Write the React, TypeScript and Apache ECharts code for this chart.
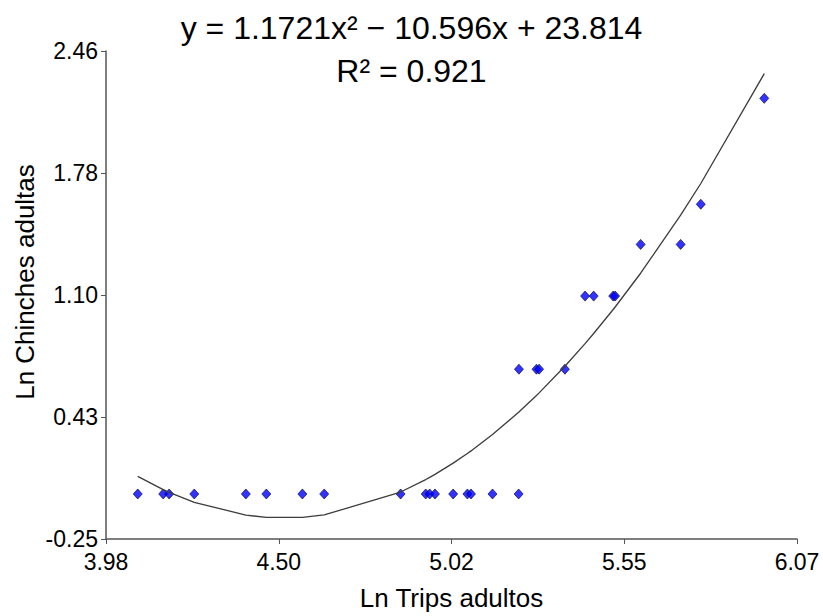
import React, { useEffect, useRef } from "react";
import * as echarts from "echarts";

// Observed points (Ln Trips adultos, Ln Chinches adultas)
const lnTrips: number[] = [
  4.076, 4.153, 4.171, 4.247, 4.403, 4.465, 4.574, 4.64, 4.871, 4.947, 4.959, 4.975, 5.03, 5.073, 5.084, 5.149, 5.228,
  5.229, 5.282, 5.29, 5.368,
  5.429, 5.455, 5.514, 5.52,
  5.597, 5.718,
  5.779,
  5.971,
];
const lnChinches: number[] = [
  0, 0, 0, 0, 0, 0, 0, 0, 0, 0, 0, 0, 0, 0, 0, 0, 0,
  0.693, 0.693, 0.693, 0.693,
  1.099, 1.099, 1.099, 1.099,
  1.386, 1.386,
  1.609,
  2.197,
];

// Polynomial trend coefficients shown in the chart: y = a x^2 + b x + c
const trendA = 1.1721;
const trendB = -10.596;
const trendC = 23.814;

const xTickValues: number[] = [3.98, 4.5025, 5.025, 5.5475, 6.07];
const xTickLabels: string[] = ["3.98", "4.50", "5.02", "5.55", "6.07"];
const yTickValues: number[] = [-0.25, 0.4275, 1.105, 1.7825, 2.46];
const yTickLabels: string[] = ["-0.25", "0.43", "1.10", "1.78", "2.46"];

const titleLine1 = "y = 1.1721x² − 10.596x + 23.814";
const titleLine2 = "R² = 0.921";
const xAxisTitle = "Ln Trips adultos";
const yAxisTitle = "Ln Chinches adultas";

const FONT = "'Liberation Sans', Arial, sans-serif";

function labelFor(values: number[], labels: string[], v: number): string {
  let best = 0;
  for (let i = 1; i < values.length; i++) {
    if (Math.abs(values[i] - v) < Math.abs(values[best] - v)) best = i;
  }
  return labels[best];
}

export default function App() {
  const ref = useRef<HTMLDivElement>(null);
  useEffect(() => {
    if (!ref.current) return;
    const chart = echarts.init(ref.current, undefined, { renderer: "svg" });
    const points = lnTrips.map((x, i) => [x, lnChinches[i]]);
    const sortedX = [...lnTrips].sort((a, b) => a - b);
    const trend = sortedX.map((x) => [x, trendA * x * x + trendB * x + trendC]);
    const axisColor = "#555555";
    chart.setOption({
      animation: false,
      backgroundColor: "#ffffff",
      title: [
        {
          text: titleLine1,
          left: "center",
          top: 7,
          textStyle: { fontFamily: FONT, fontSize: 32, fontWeight: "normal", color: "#000" },
        },
        {
          text: titleLine2,
          left: "center",
          top: 50,
          textStyle: { fontFamily: FONT, fontSize: 32, fontWeight: "normal", color: "#000" },
        },
      ],
      graphic: [
        {
          type: "text",
          x: 25,
          y: 282,
          rotation: Math.PI / 2,
          style: {
            text: yAxisTitle,
            fontFamily: FONT,
            fontSize: 26,
            fill: "#000",
            align: "center",
            verticalAlign: "middle",
          },
        },
      ],
      grid: { left: 106, right: 26, top: 51, bottom: 67, containLabel: false },
      xAxis: {
        type: "value",
        min: 3.98,
        max: 6.07,
        name: xAxisTitle,
        nameLocation: "middle",
        nameGap: 46,
        nameTextStyle: { fontFamily: FONT, fontSize: 26, color: "#000" },
        axisLine: { show: true, onZero: false, lineStyle: { color: axisColor, width: 1.5 } },
        axisTick: { show: true, length: 5, customValues: xTickValues, lineStyle: { color: axisColor } },
        axisLabel: {
          customValues: xTickValues,
          formatter: (v: number) => labelFor(xTickValues, xTickLabels, v),
          fontFamily: FONT,
          fontSize: 23,
          color: "#000",
          margin: 11,
        },
        splitLine: { show: false },
      },
      yAxis: {
        type: "value",
        min: -0.25,
        max: 2.46,
        axisLine: { show: true, onZero: false, lineStyle: { color: axisColor, width: 1.5 } },
        axisTick: { show: true, length: 5, customValues: yTickValues, lineStyle: { color: axisColor } },
        axisLabel: {
          customValues: yTickValues,
          formatter: (v: number) => labelFor(yTickValues, yTickLabels, v),
          fontFamily: FONT,
          fontSize: 23,
          color: "#000",
          margin: 8,
        },
        splitLine: { show: false },
      },
      series: [
        {
          type: "scatter",
          data: points,
          symbol: "diamond",
          symbolSize: [9, 10],
          itemStyle: { color: "#0000ff", borderColor: "#000033", borderWidth: 0.8 },
          z: 2,
        },
        {
          type: "line",
          data: trend,
          showSymbol: false,
          symbol: "none",
          lineStyle: { color: "#3c3c3c", width: 1.3 },
          z: 3,
        },
      ],
    });
    return () => chart.dispose();
  }, []);
  return (
    <div
      ref={ref}
      style={{ position: "fixed", left: 0, top: 0, width: 823, height: 616, background: "#fff" }}
    />
  );
}
